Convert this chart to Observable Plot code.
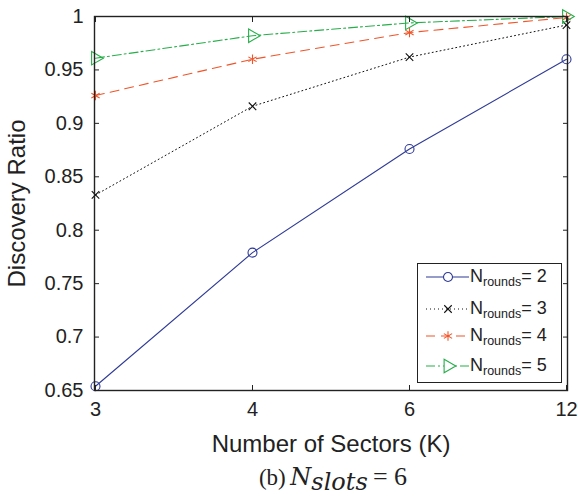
<!DOCTYPE html>
<html><head><meta charset="utf-8">
<script src="https://cdn.jsdelivr.net/npm/d3@7"></script>
<script src="https://cdn.jsdelivr.net/npm/@observablehq/plot@0.6"></script>
<style>
body{margin:0;background:#fff;}
#wrap{position:relative;width:578px;height:502px;font-family:"Liberation Sans",Arial,sans-serif;color:#222;}
#legend{position:absolute;left:417px;top:263px;width:143px;height:118px;border:1.3px solid #222;background:#fff;}
.row{position:absolute;left:0;height:30px;width:143px;}
.row svg{position:absolute;left:6px;top:0;}
.row .lab{position:absolute;left:52px;top:3px;font-size:18px;white-space:nowrap;line-height:20px;}
.row .lab sub{font-size:12.5px;vertical-align:-4px;line-height:0;}
#caption{position:absolute;left:0;width:578px;top:462px;text-align:center;font-family:"Liberation Serif","Times New Roman",serif;font-size:23px;color:#222;padding-left:88px;box-sizing:border-box;white-space:nowrap;}
#caption i{font-family:"DejaVu Serif",serif;font-style:italic;font-size:24px;}
#caption sub{font-size:17px;vertical-align:-5px;line-height:0;}
#caption .eq{font-size:26px;}
</style></head><body><div id="wrap"></div>
<script>
const sectors = ["3", "4", "6", "12"];
const seriesNames = ["2", "3", "4", "5"];
const rounds2 = [0.654, 0.779, 0.876, 0.960];
const rounds3 = [0.833, 0.916, 0.962, 0.992];
const rounds4 = [0.926, 0.960, 0.985, 0.999];
const rounds5 = [0.961, 0.982, 0.994, 1.000];
const yTicks = [0.65, 0.7, 0.75, 0.8, 0.85, 0.9, 0.95, 1];
const yTickLabels = ["0.65", "0.7", "0.75", "0.8", "0.85", "0.9", "0.95", "1"];
const xLabel = "Number of Sectors (K)";
const yLabel = "Discovery Ratio";

const seriesValues = [rounds2, rounds3, rounds4, rounds5];
const styles = [
  {color: "#2e3a96", dash: null, symbol: "circle", r: 4.5, width: 1.1, rotate: 0},
  {color: "#111111", dash: "1,3", symbol: "times", r: 3.5, width: 1, rotate: 0},
  {color: "#f0552a", dash: "9,6", symbol: "asterisk", r: 4.5, width: 1.1, rotate: 0},
  {color: "#27ae4a", dash: "9,3,2,3", symbol: "triangle", r: 5, width: 1.1, rotate: 90}
];

const table = seriesNames.flatMap((s, i) => sectors.map((k, j) => ({series: s, k, v: seriesValues[i][j]})));

const marks = [];
seriesNames.forEach((s, i) => {
  const st = styles[i];
  const d = table.filter(r => r.series === s);
  marks.push(Plot.line(d, {x: "k", y: "v", stroke: st.color, strokeWidth: st.width, strokeDasharray: st.dash}));
});
seriesNames.forEach((s, i) => {
  const st = styles[i];
  const d = table.filter(r => r.series === s);
  marks.push(Plot.dot(d, {x: "k", y: "v", stroke: st.color, fill: "none", symbol: st.symbol, r: st.r, strokeWidth: 1.1, rotate: st.rotate}));
});

const fmt = v => yTickLabels[yTicks.indexOf(v)];
const TL = 5;

const chart = Plot.plot({
  width: 578,
  height: 460,
  marginLeft: 94,
  marginRight: 11,
  marginTop: 16,
  marginBottom: 70,
  style: {fontFamily: "'Liberation Sans', Arial, sans-serif", fontSize: "20px", color: "#222", background: "#fff"},
  x: {type: "point", domain: sectors, padding: 0},
  y: {domain: [0.65, 1]},
  marks: [
    ...marks,
    Plot.frame({stroke: "#222", strokeWidth: 1.4}),
    Plot.axisX({anchor: "bottom", tickSize: 0, tickPadding: 11, label: null, fill: "#222"}),
    Plot.axisX({anchor: "bottom", tickSize: TL, dy: -TL, text: null, label: null, stroke: "#222"}),
    Plot.axisX({anchor: "top", tickSize: TL, dy: TL, text: null, label: null, stroke: "#222"}),
    Plot.axisY({anchor: "left", ticks: yTicks, tickFormat: fmt, tickSize: 0, tickPadding: 11, label: null, fill: "#222"}),
    Plot.axisY({anchor: "left", ticks: yTicks, tickSize: TL, dx: TL, text: null, label: null, stroke: "#222"}),
    Plot.axisY({anchor: "right", ticks: yTicks, tickSize: TL, dx: -TL, text: null, label: null, stroke: "#222"}),
    Plot.text([xLabel], {frameAnchor: "bottom", dy: 61, fontSize: 24, fill: "#222"}),
    Plot.text([yLabel], {frameAnchor: "left", textAnchor: "middle", lineAnchor: "middle", dx: -77, rotate: -90, fontSize: 24, fill: "#222"})
  ]
});

const wrap = document.getElementById("wrap");
wrap.appendChild(chart);

// legend
const legend = document.createElement("div");
legend.id = "legend";
const rowTops = [-1, 31, 58, 88];
const symMap = {circle: d3.symbolCircle, times: d3.symbolTimes, asterisk: d3.symbolAsterisk, triangle: d3.symbolTriangle};
seriesNames.forEach((s, i) => {
  const st = styles[i];
  const row = document.createElement("div");
  row.className = "row";
  row.style.top = rowTops[i] + "px";
  const size = Math.PI * st.r * st.r;
  const markerPath = d3.symbol(symMap[st.symbol], size)();
  row.innerHTML = `<svg width="46" height="30"><line x1="2" x2="45" y1="14" y2="14" stroke="${st.color}" stroke-width="${st.width}" ${st.dash ? `stroke-dasharray="${st.dash}"` : ""}/><path d="${markerPath}" transform="translate(24,14) rotate(${st.rotate})" fill="${st.symbol === 'circle' || st.symbol === 'triangle' ? '#fff' : 'none'}" stroke="${st.color}" stroke-width="1.1"/></svg><span class="lab">N<sub>rounds</sub>= ${s}</span>`;
  legend.appendChild(row);
});
wrap.appendChild(legend);

const cap = document.createElement("div");
cap.id = "caption";
cap.innerHTML = "(b)&thinsp;<i>N</i><sub><i>slots</i></sub><span class=\"eq\">&thinsp;= 6</span>";
wrap.appendChild(cap);
</script>
</body></html>
